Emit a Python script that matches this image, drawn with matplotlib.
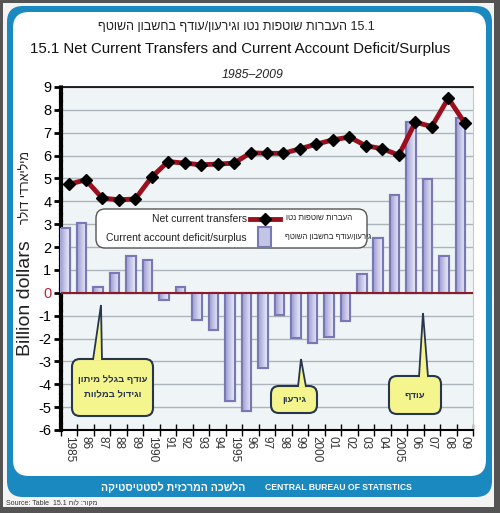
import re
import matplotlib
matplotlib.use('Agg')
import matplotlib.pyplot as plt
import matplotlib.transforms as mtransforms
from matplotlib.colors import LinearSegmentedColormap
from matplotlib.patches import FancyBboxPatch, Rectangle, Polygon
from matplotlib.lines import Line2D

# data (billion dollars)
years = ['1985', '86', '87', '88', '89', '1990', '91', '92', '93', '94',
         '1995', '96', '97', '98', '99', '2000', '01', '02', '03', '04',
         '2005', '06', '07', '08', '09']
net_transfers = [4.75, 4.94, 4.14, 4.07, 4.10, 5.06, 5.74, 5.67, 5.60, 5.63,
                 5.67, 6.12, 6.10, 6.10, 6.30, 6.50, 6.69, 6.81, 6.43, 6.30,
                 6.02, 7.46, 7.27, 8.51, 7.42]
current_account = [2.83, 3.05, 0.25, 0.86, 1.63, 1.44, -0.31, 0.25, -1.18, -1.62,
                   -4.75, -5.15, -3.29, -0.99, -1.98, -2.20, -1.95, -1.22, 0.83, 2.39,
                   4.28, 7.46, 4.98, 1.62, 7.64]
y_ticks = list(range(-6, 10))


def heb(s):
    # matplotlib has no bidi: reverse Hebrew, keep numbers readable
    r = s[::-1]
    return re.sub(r'[0-9.]+', lambda m: m.group(0)[::-1], r)


plt.rcParams['font.family'] = ['Liberation Sans', 'DejaVu Sans']

W, H = 500, 513
fig = plt.figure(figsize=(W / 100, H / 100), dpi=100)
px = mtransforms.Affine2D().scale(1 / W, -1 / H).translate(0, 1) + fig.transFigure

# frame: gray border, blue rounded panel, white inside
fig.patches.append(Rectangle((0, 0), W, H, transform=px, fc='#545454', ec='none', zorder=-5))
fig.patches.append(Rectangle((3, 3), 491, 504, transform=px, fc='#f3f3f3', ec='none', zorder=-4))
fig.patches.append(FancyBboxPatch((7, 6), 485, 491, boxstyle='round,pad=0,rounding_size=16',
                                  transform=px, fc='#1a89bf', ec='none', zorder=-3))
fig.patches.append(FancyBboxPatch((13, 12), 473, 464, boxstyle='round,pad=0,rounding_size=16',
                                  transform=px, fc='white', ec='none', zorder=-2))

# titles
fig.text(236 / W, 1 - 27 / H, heb('15.1 העברות שוטפות נטו וגירעון/עודף בחשבון השוטף'),
         ha='center', va='center', fontsize=9, color='#222222')
fig.text(240 / W, 1 - 49 / H, '15.1 Net Current Transfers and Current Account Deficit/Surplus',
         ha='center', va='center', fontsize=10.8, color='#111111')
fig.text(253 / W, 1 - 75 / H, '1985–2009', ha='center', va='center',
         fontsize=8.8, style='italic', color='#222222')

# axes
ax = fig.add_axes([61 / W, 1 - 430 / H, (473 - 61) / W, (430 - 87) / H])
ax.set_zorder(1)
ax.set_facecolor('#eff5f6')
x = list(range(len(years)))
bars = ax.bar([i - 0.25 for i in x], current_account, width=0.58, color='#c4c4e6',
              edgecolor='#7878b4', linewidth=1.5, zorder=3)
# left-to-right shading inside the bars
grad = LinearSegmentedColormap.from_list('g', ['#a8a8d8', '#c8c8e8', '#e2e2f4'])
for b in bars:
    bx0, by0 = b.get_x(), b.get_y()
    im = ax.imshow([[0, 0.5, 1]], cmap=grad, aspect='auto', interpolation='bilinear',
                   extent=(bx0, bx0 + b.get_width(), by0, by0 + b.get_height()), zorder=3.1)
    im.set_clip_path(b)
    ax.add_patch(Rectangle((bx0, by0), b.get_width(), b.get_height(),
                           fc='none', ec='#7878b4', lw=1.5, zorder=3.2))
ax.plot(x, net_transfers, color='#9c0f1e', lw=3.5, marker='D', markersize=6,
        markerfacecolor='black', markeredgecolor='black', zorder=4)
ax.axhline(0, color='#8b1a2a', lw=1.5, zorder=5)

ax.set_xlim(-0.5, len(years) - 0.5)
ax.set_ylim(-6, 9)
ax.set_yticks(y_ticks)
ax.set_yticklabels([str(v) for v in y_ticks], fontsize=10.5)
for lab in ax.get_yticklabels():
    if lab.get_text() == '0':
        lab.set_color('#c0203a')
ax.grid(axis='y', color='#adb5bc', lw=1, zorder=1)
ax.set_axisbelow(True)

ax.set_xticks([i - 0.5 for i in x] + [len(years) - 0.5])
ax.set_xticklabels([])
ax.set_xticks(x, minor=True)
ax.set_xticklabels(years, minor=True, rotation=-90, fontsize=8.5, color='#333333')
ax.tick_params(axis='x', which='major', direction='inout', length=9, width=1)
ax.tick_params(axis='x', which='minor', length=0, pad=4)
ax.tick_params(axis='y', direction='out', length=5, width=2, pad=2)

ax.spines['left'].set_linestyle((0, (1.2, 0.6)))
ax.spines['left'].set_linewidth(3)
ax.spines['bottom'].set_linewidth(1.5)
ax.spines['top'].set_linewidth(1.2)
ax.spines['right'].set_color('#c8c8c8')

# y label
fig.text(26 / W, 1 - 298 / H, 'Billion dollars', rotation=90, ha='center', va='center',
         fontsize=14, color='#222222')
fig.text(26 / W, 1 - 188 / H, heb('מיליארדי דולר'), rotation=90, ha='center', va='center',
         fontsize=9, color='#222222')

# legend (drawn by hand, bilingual)
fig.patches.append(FancyBboxPatch((96, 209), 271, 39, boxstyle='round,pad=0,rounding_size=9',
                                  transform=px, fc='white', ec='#555555', lw=1, zorder=6))
fig.text(247 / W, 1 - 219 / H, 'Net current transfers', ha='right', va='center',
         fontsize=7.5, color='#222222', zorder=7)
fig.text(247 / W, 1 - 238 / H, 'Current account deficit/surplus', ha='right', va='center',
         fontsize=7.5, color='#222222', zorder=7)
fig.lines.append(Line2D([250, 280], [219, 219], transform=px, color='#9c0f1e', lw=3.5, zorder=7))
fig.lines.append(Line2D([265], [219], transform=px, marker='D', markersize=6, color='black', zorder=8))
fig.patches.append(Rectangle((258, 227), 13, 20, transform=px, fc='#c4c4e6', ec='#7878b4',
                             lw=1.5, zorder=7))
fig.text(286 / W, 1 - 219 / H, heb('העברות שוטפות נטו'), ha='left', va='center',
         fontsize=5.8, color='#222222', zorder=7)
fig.text(285 / W, 1 - 238 / H, heb('גירעון/עודף בחשבון השוטף'), ha='left', va='center',
         fontsize=5.6, color='#222222', zorder=7)

# yellow callouts
callouts = [
    ((72, 359, 81, 57), [(93, 360), (101, 305), (102, 360)], 'עודף בגלל מיתון\nוגידול במלוות'),
    ((271, 386, 46, 27), [(298, 387), (301, 359), (306, 387)], 'גירעון'),
    ((389, 376, 52, 38), [(419, 377), (423, 313), (428, 377)], 'עודף'),
]
for (bx, by, bw, bh), tri, txt in callouts:
    fig.patches.append(FancyBboxPatch((bx, by), bw, bh, boxstyle='round,pad=0,rounding_size=8',
                                      transform=px, fc='#f5f58e', ec='#27354f', lw=1.5, zorder=8))
    fig.patches.append(Polygon(tri, closed=False, transform=px, fc='#f5f58e', ec='#27354f',
                               lw=1.3, zorder=9))
    lines = '\n'.join(heb(t) for t in txt.split('\n'))
    fig.text((bx + bw / 2) / W, 1 - (by + bh / 2) / H, lines, ha='center', va='center',
             fontsize=6.8, fontweight='bold', color='#27354f', linespacing=1.9, zorder=10)

# bottom banner
fig.text(245 / W, 1 - 487 / H, heb('הלשכה המרכזית לסטטיסטיקה'), ha='right', va='center',
         fontsize=7.6, fontweight='bold', color='white', zorder=5)
fig.text(265 / W, 1 - 487 / H, 'CENTRAL BUREAU OF STATISTICS', ha='left', va='center',
         fontsize=6.2, fontweight='bold', color='white', zorder=5)
fig.text(6 / W, 1 - 503 / H, 'Source: Table  ' + heb('מקור: לוח 15.1'), ha='left', va='center',
         fontsize=5, color='#333333', zorder=5)

fig.savefig('out.png', dpi=100)
